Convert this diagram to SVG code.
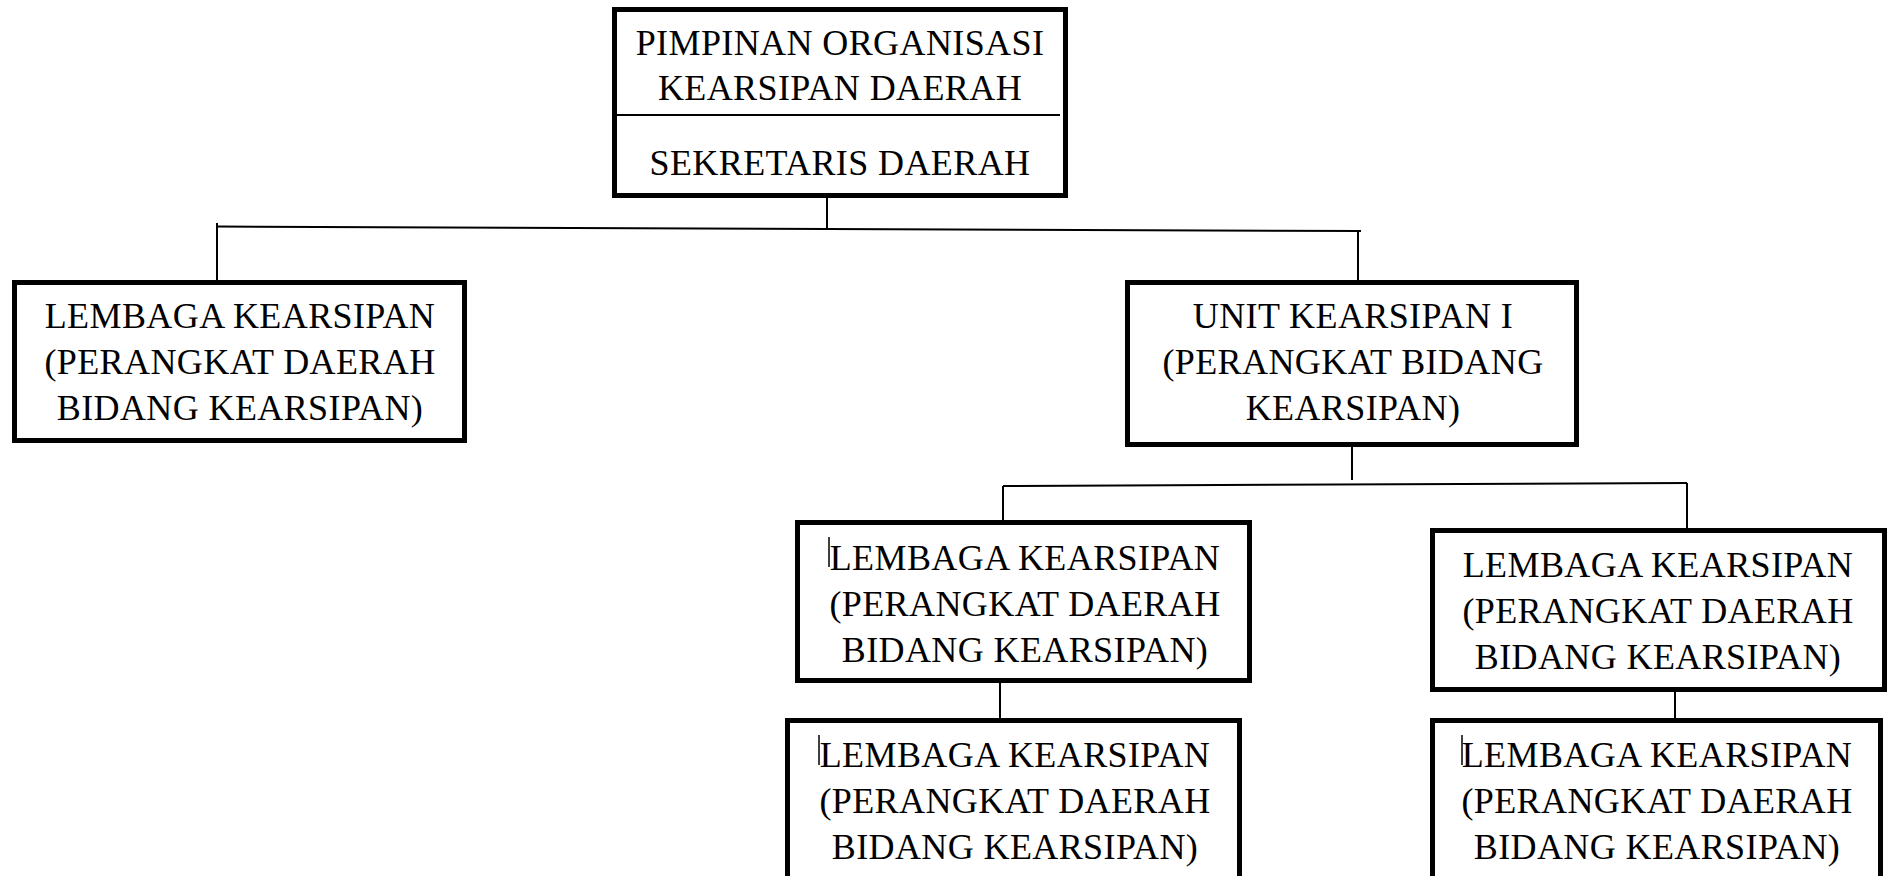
<svg xmlns="http://www.w3.org/2000/svg" width="1894" height="876" viewBox="0 0 1894 876">
<style>
.box{fill:#fff;stroke:#000;stroke-width:5}
.t{font-family:"Liberation Serif","Times New Roman",serif;font-size:36px;letter-spacing:0.4px;fill:#000;text-anchor:middle}
.c{stroke:#000;stroke-width:2;fill:none}
.cur{stroke:#000;stroke-width:1.5}
</style>
<rect width="1894" height="876" fill="#fff"/>
<g id="connectors">
<line class="c" x1="827" y1="198" x2="827" y2="229"/>
<line class="c" x1="217" y1="226.5" x2="1361" y2="231"/>
<line class="c" x1="217" y1="223" x2="217" y2="281"/>
<line class="c" x1="1358" y1="231" x2="1358" y2="281"/>
<line class="c" x1="1352" y1="447" x2="1352" y2="480"/>
<line class="c" x1="1003" y1="486" x2="1687" y2="483"/>
<line class="c" x1="1003" y1="486" x2="1003" y2="521"/>
<line class="c" x1="1687" y1="483" x2="1687" y2="529"/>
<line class="c" x1="1000" y1="683" x2="1000" y2="719"/>
<line class="c" x1="1675" y1="687" x2="1675" y2="719"/>
</g>
<g id="pimpinan">
<rect class="box" x="614.5" y="9.5" width="451" height="186"/>
<line class="c" x1="612" y1="115" x2="1060" y2="115"/>
<text class="t" x="840" y="55">PIMPINAN ORGANISASI</text>
<text class="t" x="840" y="100">KEARSIPAN DAERAH</text>
<text class="t" x="840" y="175">SEKRETARIS DAERAH</text>
</g>
<g id="lembaga-kiri">
<rect class="box" x="14.5" y="282.5" width="450" height="158"/>
<text class="t" x="240" y="328">LEMBAGA KEARSIPAN</text>
<text class="t" x="240" y="374">(PERANGKAT DAERAH</text>
<text class="t" x="240" y="420">BIDANG KEARSIPAN)</text>
</g>
<g id="unit">
<rect class="box" x="1127.5" y="282.5" width="449" height="162"/>
<text class="t" x="1353" y="328">UNIT KEARSIPAN I</text>
<text class="t" x="1353" y="374">(PERANGKAT BIDANG</text>
<text class="t" x="1353" y="420">KEARSIPAN)</text>
</g>
<g id="lembaga-3">
<rect class="box" x="797.5" y="522.5" width="452" height="158"/>
<line class="cur" x1="829" y1="537" x2="829" y2="567"/>
<text class="t" x="1025" y="570">LEMBAGA KEARSIPAN</text>
<text class="t" x="1025" y="616">(PERANGKAT DAERAH</text>
<text class="t" x="1025" y="662">BIDANG KEARSIPAN)</text>
</g>
<g id="lembaga-4">
<rect class="box" x="1432.5" y="530.5" width="452" height="159"/>
<text class="t" x="1658" y="577">LEMBAGA KEARSIPAN</text>
<text class="t" x="1658" y="623">(PERANGKAT DAERAH</text>
<text class="t" x="1658" y="669">BIDANG KEARSIPAN)</text>
</g>
<g id="lembaga-5">
<rect class="box" x="787.5" y="720.5" width="452" height="180"/>
<line class="cur" x1="819" y1="735" x2="819" y2="765"/>
<text class="t" x="1015" y="767">LEMBAGA KEARSIPAN</text>
<text class="t" x="1015" y="813">(PERANGKAT DAERAH</text>
<text class="t" x="1015" y="859">BIDANG KEARSIPAN)</text>
</g>
<g id="lembaga-6">
<rect class="box" x="1432.5" y="720.5" width="448" height="180"/>
<line class="cur" x1="1462" y1="735" x2="1462" y2="765"/>
<text class="t" x="1657" y="767">LEMBAGA KEARSIPAN</text>
<text class="t" x="1657" y="813">(PERANGKAT DAERAH</text>
<text class="t" x="1657" y="859">BIDANG KEARSIPAN)</text>
</g>
</svg>
